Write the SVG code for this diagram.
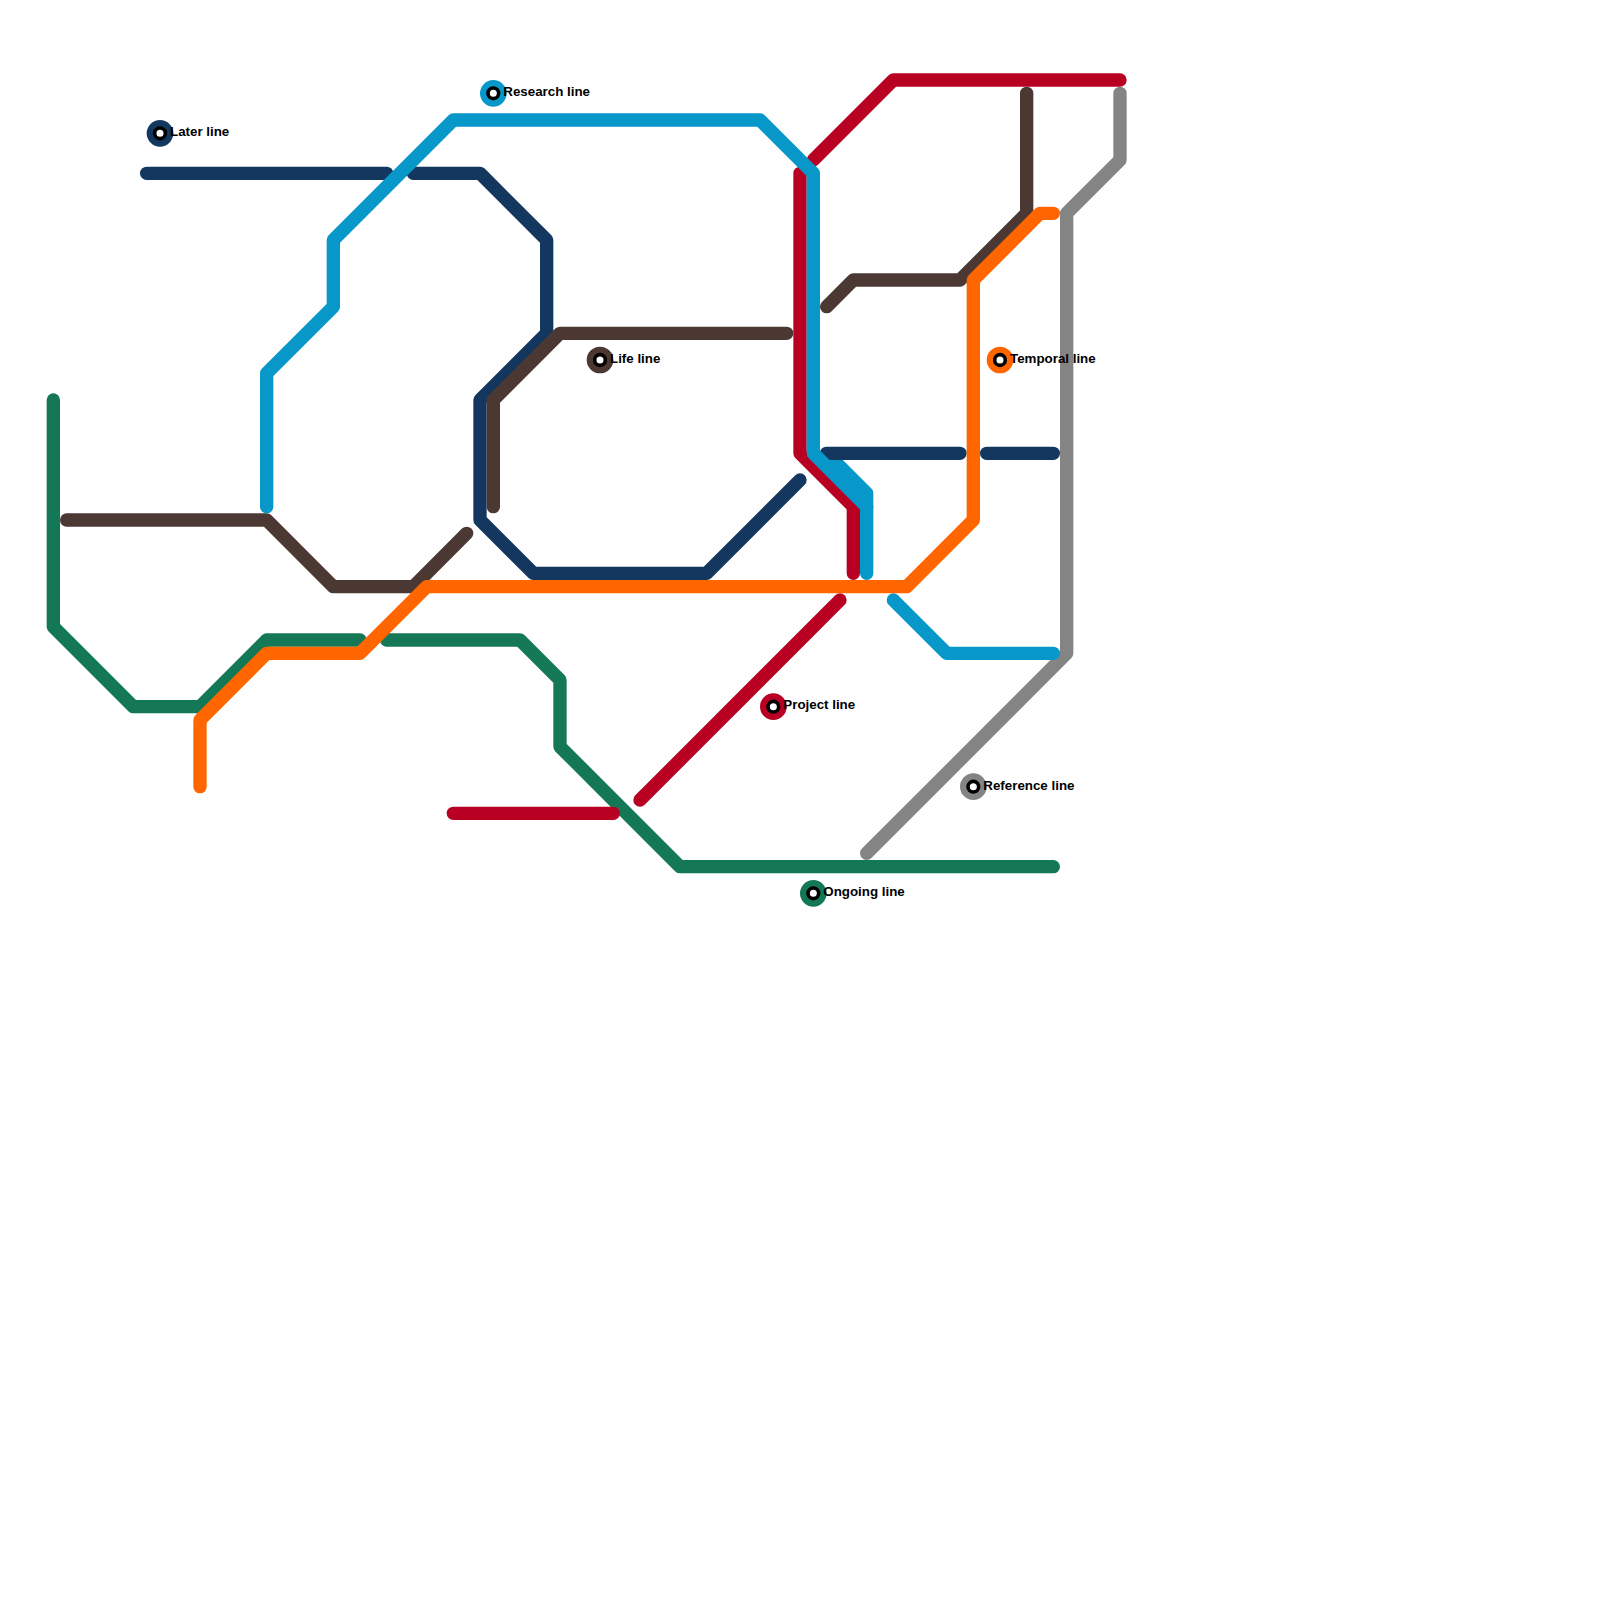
<svg xmlns="http://www.w3.org/2000/svg" width="1600" height="1600" viewBox="0 0 1600 1600">
<style>
.l{fill:none;stroke-width:13.333;stroke-linecap:round;stroke-linejoin:round}
.later{stroke:#14375f}.research{stroke:#0798c9}.project{stroke:#b80022}.life{stroke:#4c3832}.temporal{stroke:#ff6600}.ongoing{stroke:#147856}.reference{stroke:#848484}
.hole{fill:#fff;stroke:#000;stroke-width:3.6}
text{font-family:"Liberation Sans",Arial,sans-serif;font-size:13.333px;font-weight:700;fill:#000}
</style>
<rect width="1600" height="1600" fill="#fff"/>
<g id="connectors">
<path class="l ongoing" d="M53.33 400V626.67L133.33 706.67H200L266.67 640H360"/>
<path class="l ongoing" d="M386.67 640H520L560 680V746.67L680 866.67H1053.33"/>
<path class="l reference" d="M866.67 853.33L1066.67 653.33V213.33L1120 160V93.33"/>
<path class="l life" d="M66.67 520H266.67L333.33 586.67H413.33L466.67 533.33"/>
<path class="l later" d="M146.67 173.33H386.67"/>
<path class="l later" d="M413.33 173.33H480L546.67 240V333.33L480 400V520L533.33 573.33H706.67L800 480"/>
<path class="l later" d="M986.67 453.33H1053.33"/>
<path class="l life" d="M493.33 506.67V400L560 333.33H786.67"/>
<path class="l life" d="M826.67 306.67L853.33 280H960L1026.67 213.33V93.33"/>
<path class="l project" d="M453.33 813.33H613.33"/>
<path class="l project" d="M640 800L840 600"/>
<path class="l project" d="M800 173.33V453.33L853.33 506.67V573.33"/>
<path class="l project" d="M813.33 160L893.33 80H1120"/>
<path class="l research" d="M826.67 453.33L866.67 493.33V506.67"/>
<path class="l later" d="M826.67 453.33H960"/>
<path class="l research" d="M266.67 506.67V373.33L333.33 306.67V240L453.33 120H760L813.33 173.33V453.33L866.67 506.67V573.33"/>
<path class="l research" d="M893.33 600L946.67 653.33H1053.33"/>
<path class="l temporal" d="M200 786.67V720L266.67 653.33H360L426.67 586.67H906.67L973.33 520V280L1040 213.33H1053.33"/>
</g>
<g id="station-later"><circle cx="160" cy="133.33" r="13.33" fill="#14375f"/><circle class="hole" cx="160" cy="133.33" r="5.33"/><text x="170" y="136.4">Later line</text></g>
<g id="station-research"><circle cx="493.33" cy="93.33" r="13.33" fill="#0798c9"/><circle class="hole" cx="493.33" cy="93.33" r="5.33"/><text x="503.33" y="96.4">Research line</text></g>
<g id="station-life"><circle cx="600" cy="360" r="13.33" fill="#4c3832"/><circle class="hole" cx="600" cy="360" r="5.33"/><text x="610" y="363">Life line</text></g>
<g id="station-temporal"><circle cx="1000" cy="360" r="13.33" fill="#ff6600"/><circle class="hole" cx="1000" cy="360" r="5.33"/><text x="1010" y="363">Temporal line</text></g>
<g id="station-project"><circle cx="773.33" cy="706.67" r="13.33" fill="#b80022"/><circle class="hole" cx="773.33" cy="706.67" r="5.33"/><text x="783.33" y="709">Project line</text></g>
<g id="station-reference"><circle cx="973.33" cy="786.67" r="13.33" fill="#848484"/><circle class="hole" cx="973.33" cy="786.67" r="5.33"/><text x="983.33" y="789.7">Reference line</text></g>
<g id="station-ongoing"><circle cx="813.33" cy="893.33" r="13.33" fill="#147856"/><circle class="hole" cx="813.33" cy="893.33" r="5.33"/><text x="823.33" y="896.4">Ongoing line</text></g>
</svg>
